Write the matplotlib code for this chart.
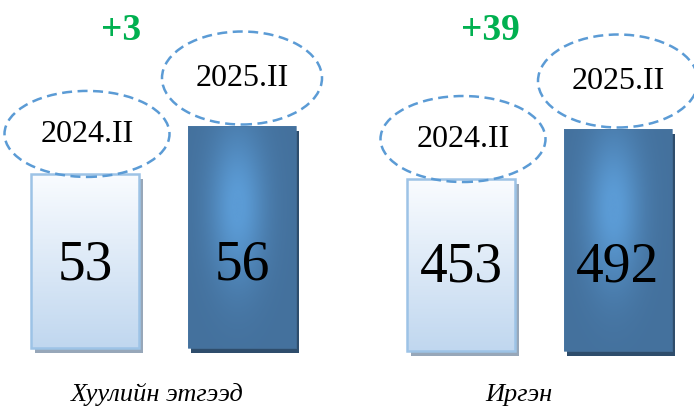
import numpy as np
import matplotlib
matplotlib.use('Agg')
import matplotlib.pyplot as plt
from matplotlib.patches import Ellipse
from matplotlib.transforms import offset_copy, IdentityTransform, blended_transform_factory
import matplotlib.colors as mcolors

# ---- data ----
categories = ['Хуулийн этгээд', 'Иргэн']
periods = ['2024.II', '2025.II']
values_legal = [53, 56]
values_citizen = [453, 492]

# ---- style / layout ----
W, H, DPI = 694, 408, 100
SERIF = ['Liberation Serif', 'DejaVu Serif']
panels = [
    dict(values=values_legal, label=categories[0], left=6.5, base=42.1, px_per_unit=15.97, bottom_px=60, label_x=0.46, diff_x=0.23),
    dict(values=values_citizen, label=categories[1], left=382.5, base=318.9, px_per_unit=1.2825, bottom_px=57, label_x=0.37, diff_x=0.19),
]
STEP = 157.0
BAR_W = 108 / STEP
ell_cfg = [dict(dy=40, w=165, h=86, dx=2), dict(dy=48, w=160, h=93, dx=0)]
light_top = mcolors.to_rgb('#fafcff')
light_bot = mcolors.to_rgb('#c0d7ef')
dark_edge = np.array(mcolors.to_rgb('#44719d'))
dark_mid = np.array(mcolors.to_rgb('#5b9bd5'))

fig = plt.figure(figsize=(W / DPI, H / DPI), dpi=DPI)
fig.patch.set_facecolor('white')

# gradient images
ny, nx = 200, 120
yy = np.linspace(1, 0, ny)[:, None]  # 1 top, 0 bottom (image row 0 = top)
xx = np.linspace(0, 1, nx)[None, :]
light_img = np.zeros((ny, nx, 3))
for c in range(3):
    light_img[..., c] = light_bot[c] + (light_top[c] - light_bot[c]) * yy * np.ones_like(xx)
fx = np.exp(-((xx - 0.46) / 0.26) ** 2)
fy = np.exp(-((yy - 0.64) / 0.34) ** 2)
t = np.clip(fx * fy * 1.05, 0, 1)
dark_img = dark_edge[None, None, :] + (dark_mid - dark_edge)[None, None, :] * t[..., None]

for pan in panels:
    vals = np.array(pan['values'], dtype=float)
    base = pan['base']
    ppu = pan['px_per_unit']
    ax = fig.add_axes([pan['left'] / W, 0, 2 * STEP / W, 1])
    ax.set_axis_off()
    ylo = base - pan['bottom_px'] / ppu
    yhi = ylo + H / ppu
    ax.set_xlim(-0.5, 1.5)
    ax.set_ylim(ylo, yhi)
    x = np.arange(len(vals))

    # shadows
    shadow_cols = ['#97a7b9', '#2e4d6c']
    sh = ax.bar(x, vals - base, bottom=base, width=BAR_W, color=shadow_cols, zorder=1)
    for i, p in enumerate(sh):
        p.set_transform(offset_copy(ax.transData, fig, x=4 if i == 0 else 3, y=-5, units='dots'))

    bars = ax.bar(x, vals - base, bottom=base, width=BAR_W, facecolor='none',
                  edgecolor=['#9dc3e6', '#4a78a4'], linewidth=[1.8, 0.5], zorder=3)
    for i, p in enumerate(bars):
        x0, y0 = p.get_x(), p.get_y()
        im = ax.imshow(light_img if i == 0 else dark_img,
                       extent=(x0, x0 + p.get_width(), y0, y0 + p.get_height()),
                       aspect='auto', interpolation='bilinear', zorder=2)
        im.set_clip_path(p)
    ax.set_xlim(-0.5, 1.5)
    ax.set_ylim(ylo, yhi)

    # value labels
    for i, v in enumerate(vals):
        ax.text(x[i], base, f'{int(v)}', transform=offset_copy(ax.transData, fig, y=69, units='dots'),
                ha='center', va='baseline', fontsize=40, family=SERIF, color='black', zorder=5)

    # ellipse period labels
    for i, v in enumerate(vals):
        cfg = ell_cfg[i]
        px, py = ax.transData.transform((x[i], v))
        cx, cy_ = px + cfg['dx'], py + cfg['dy']
        e = Ellipse((cx, cy_), cfg['w'], cfg['h'], transform=IdentityTransform(),
                    facecolor='none', edgecolor='#5b9bd5', linewidth=1.8,
                    linestyle=(0, (4.0, 2.2)), zorder=6, clip_on=False)
        ax.add_artist(e)
        fig.text(cx / W, (cy_ - 7.8) / H, periods[i], ha='center', va='baseline',
                 fontsize=23, family=SERIF, color='black', zorder=7)

    # difference
    diff = int(vals[1] - vals[0])
    tr = blended_transform_factory(ax.transData, fig.transFigure)
    ax.text(pan['diff_x'], 1 - 40 / H, f'+{diff}', transform=tr, ha='center', va='baseline',
            fontsize=27, fontweight='bold', family=SERIF, color='#00b050')

    # category label
    ax.text(pan['label_x'], 1 - 401 / H, pan['label'], transform=tr, ha='center', va='baseline',
            fontsize=19, style='italic', family=SERIF, color='black')

fig.savefig('out.png', dpi=DPI, facecolor='white')
